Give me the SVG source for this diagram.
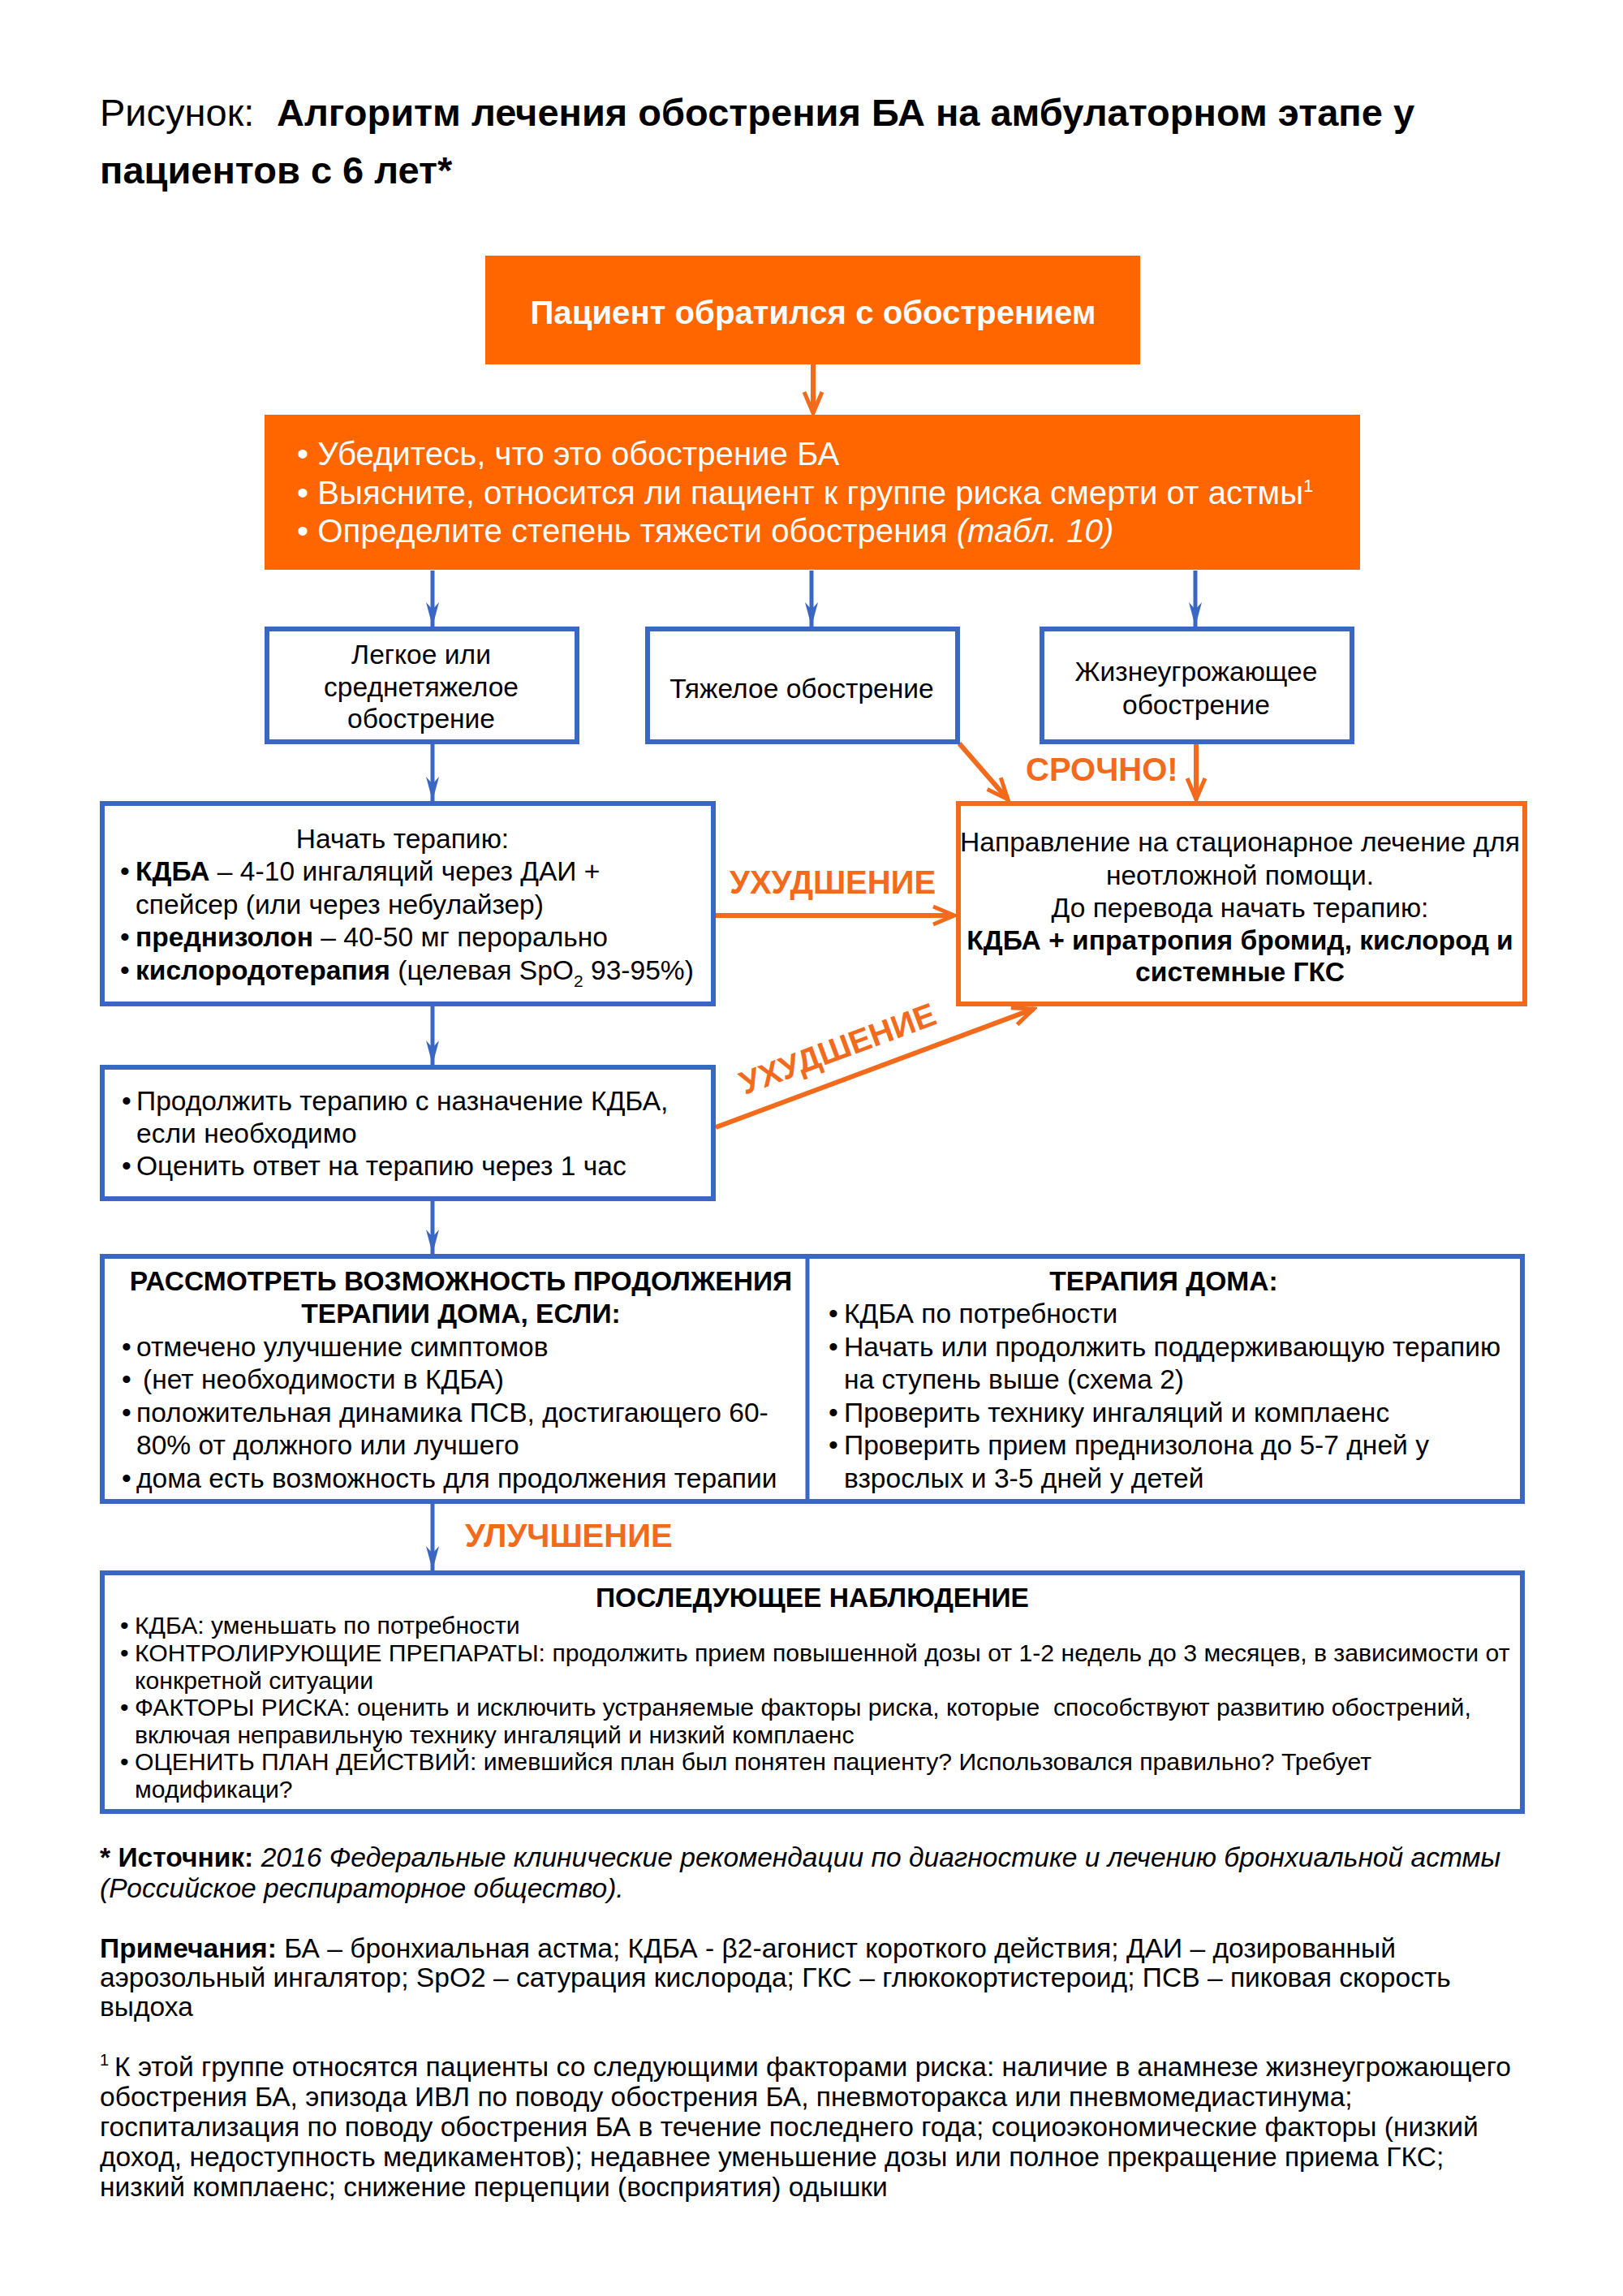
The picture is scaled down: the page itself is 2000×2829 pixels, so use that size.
<svg xmlns="http://www.w3.org/2000/svg" width="2000" height="2829" viewBox="0 0 2000 2829">
<defs>
<style>
text { font-family: "Liberation Sans", Arial, sans-serif; fill: #000; white-space: pre; }
.t33 { font-size: 33.6px; }
.t30 { font-size: 30.2px; }
.mid { text-anchor: middle; }
.b { font-weight: bold; }
.i { font-style: italic; }
.wt { fill: #fff; font-size: 40.2px; }
.lbl { fill: #F26B1D; font-size: 40px; font-weight: bold; }
.bbox { fill: #fff; stroke: #3A66C4; stroke-width: 6; }
.obox { fill: #fff; stroke: #F26B1D; stroke-width: 6; }
.ofill { fill: #FF6600; }
.cb { fill: none; stroke: #3A66C4; stroke-width: 5; marker-end: url(#ab); }
.co { fill: none; stroke: #F26B1D; stroke-width: 6; marker-end: url(#ao); }
</style>
<marker id="ab" viewBox="0 -10 32 20" refX="30" refY="0" markerWidth="32" markerHeight="20" markerUnits="userSpaceOnUse" orient="auto">
<path d="M0,-8 L30,0 L0,8 L9,0 Z" fill="#3A66C4"/>
</marker>
<marker id="ao" viewBox="-2 -14 34 28" refX="28" refY="0" markerWidth="34" markerHeight="28" markerUnits="userSpaceOnUse" orient="auto">
<path d="M2,-11 L28,0 L2,11" fill="none" stroke="#F26B1D" stroke-width="5"/>
</marker>
</defs>
<rect width="2000" height="2829" fill="#fff"/>

<g id="title">
<text x="123" y="155" style="font-size:47px">Рисунок:<tspan x="341" class="b">Алгоритм лечения обострения БА на амбулаторном этапе у</tspan></text>
<text x="123" y="226" class="b" style="font-size:47px">пациентов с 6 лет*</text>
</g>

<g id="connectors">
<line x1="1002" y1="449" x2="1002" y2="509" class="co"/>
<line x1="533" y1="703" x2="533" y2="772" class="cb"/>
<line x1="1000" y1="703" x2="1000" y2="772" class="cb"/>
<line x1="1473" y1="703" x2="1473" y2="772" class="cb"/>
<line x1="533" y1="917" x2="533" y2="987" class="cb"/>
<line x1="1182" y1="916" x2="1242" y2="985" class="co"/>
<line x1="1474" y1="917" x2="1474" y2="985" class="co"/>
<line x1="881" y1="1128" x2="1176" y2="1128" class="co"/>
<line x1="533" y1="1240" x2="533" y2="1312" class="cb"/>
<line x1="882" y1="1389" x2="1274" y2="1243" class="co"/>
<line x1="533" y1="1480" x2="533" y2="1545" class="cb"/>
<line x1="533" y1="1853" x2="533" y2="1935" class="cb"/>
<text x="1264" y="962" class="lbl">СРОЧНО!</text>
<text x="899" y="1101" class="lbl">УХУДШЕНИЕ</text>
<text transform="translate(1037,1305) rotate(-20.3)" x="0" y="0" class="lbl mid">УХУДШЕНИЕ</text>
<text x="573" y="1906" class="lbl">УЛУЧШЕНИЕ</text>
</g>

<g id="n-start">
<rect x="598" y="315" width="807" height="134" class="ofill"/>
<text x="1002" y="399" class="wt b mid">Пациент обратился с обострением</text>
</g>

<g id="n-assess">
<rect x="326" y="511" width="1350" height="191" class="ofill"/>
<text x="366" y="573" class="wt">• Убедитесь, что это обострение БА</text>
<text x="366" y="621" class="wt">• Выясните, относится ли пациент к группе риска смерти от астмы<tspan dy="-15" style="font-size:22px">1</tspan></text>
<text x="366" y="668" class="wt">• Определите степень тяжести обострения <tspan class="i">(табл. 10)</tspan></text>
</g>

<g id="n-mild">
<rect x="329" y="775" width="382" height="139" class="bbox"/>
<text x="519" y="818" class="t33 mid">Легкое или</text>
<text x="519" y="858" class="t33 mid">среднетяжелое</text>
<text x="519" y="897" class="t33 mid">обострение</text>
</g>

<g id="n-severe">
<rect x="798" y="775" width="382" height="139" class="bbox"/>
<text x="988" y="860" class="t33 mid">Тяжелое обострение</text>
</g>

<g id="n-life">
<rect x="1284" y="775" width="382" height="139" class="bbox"/>
<text x="1474" y="839" class="t33 mid">Жизнеугрожающее</text>
<text x="1474" y="880" class="t33 mid">обострение</text>
</g>

<g id="n-start-therapy">
<rect x="126" y="990" width="753" height="247" class="bbox"/>
<text x="496" y="1045" class="t33 mid">Начать терапию:</text>
<text x="148" y="1085" class="t33">•<tspan x="167" class="b">КДБА</tspan> – 4-10 ингаляций через ДАИ +</text>
<text x="167" y="1126" class="t33">спейсер (или через небулайзер)</text>
<text x="148" y="1166" class="t33">•<tspan x="167" class="b">преднизолон</tspan> – 40-50 мг перорально</text>
<text x="148" y="1207" class="t33">•<tspan x="167" class="b">кислородотерапия</tspan> (целевая SpO<tspan dy="9" style="font-size:21px">2</tspan><tspan dy="-9"> 93-95%)</tspan></text>
</g>

<g id="n-hospital">
<rect x="1181" y="990" width="698" height="247" class="obox"/>
<text x="1528" y="1049" class="t33 mid">Направление на стационарное лечение для</text>
<text x="1528" y="1090" class="t33 mid">неотложной помощи.</text>
<text x="1528" y="1130" class="t33 mid">До перевода начать терапию:</text>
<text x="1528" y="1170" class="t33 mid b">КДБА + ипратропия бромид, кислород и</text>
<text x="1528" y="1209" class="t33 mid b">системные ГКС</text>
</g>

<g id="n-continue">
<rect x="126" y="1315" width="753" height="162" class="bbox"/>
<text x="150" y="1368" class="t33">•<tspan x="168">Продолжить терапию с назначение КДБА,</tspan></text>
<text x="168" y="1408" class="t33">если необходимо</text>
<text x="150" y="1448" class="t33">•<tspan x="168">Оценить ответ на терапию через 1 час</tspan></text>
</g>

<g id="n-home">
<rect x="126" y="1548" width="1750" height="302" class="bbox"/>
<line x1="995" y1="1548" x2="995" y2="1850" stroke="#3A66C4" stroke-width="5"/>
<text x="568" y="1590" class="t33 mid b">РАССМОТРЕТЬ ВОЗМОЖНОСТЬ ПРОДОЛЖЕНИЯ</text>
<text x="568" y="1630" class="t33 mid b">ТЕРАПИИ ДОМА, ЕСЛИ:</text>
<text x="150" y="1671" class="t33">•<tspan x="168">отмечено улучшение симптомов</tspan></text>
<text x="150" y="1711" class="t33">•<tspan x="176">(нет необходимости в КДБА)</tspan></text>
<text x="150" y="1752" class="t33">•<tspan x="168">положительная динамика ПСВ, достигающего 60-</tspan></text>
<text x="168" y="1792" class="t33">80% от должного или лучшего</text>
<text x="150" y="1833" class="t33">•<tspan x="168">дома есть возможность для продолжения терапии</tspan></text>
<text x="1434" y="1590" class="t33 mid b">ТЕРАПИЯ ДОМА:</text>
<text x="1021" y="1630" class="t33">•<tspan x="1040">КДБА по потребности</tspan></text>
<text x="1021" y="1671" class="t33">•<tspan x="1040">Начать или продолжить поддерживающую терапию</tspan></text>
<text x="1040" y="1711" class="t33">на ступень выше (схема 2)</text>
<text x="1021" y="1752" class="t33">•<tspan x="1040">Проверить технику ингаляций и комплаенс</tspan></text>
<text x="1021" y="1792" class="t33">•<tspan x="1040">Проверить прием преднизолона до 5-7 дней у</tspan></text>
<text x="1040" y="1833" class="t33">взрослых и 3-5 дней у детей</text>
</g>

<g id="n-followup">
<rect x="126" y="1938" width="1750" height="294" class="bbox"/>
<text x="1001" y="1980" class="t33 mid b">ПОСЛЕДУЮЩЕЕ НАБЛЮДЕНИЕ</text>
<text x="148" y="2013" class="t30">•<tspan x="166">КДБА: уменьшать по потребности</tspan></text>
<text x="148" y="2047" class="t30">•<tspan x="166">КОНТРОЛИРУЮЩИЕ ПРЕПАРАТЫ: продолжить прием повышенной дозы от 1-2 недель до 3 месяцев, в зависимости от</tspan></text>
<text x="166" y="2081" class="t30">конкретной ситуации</text>
<text x="148" y="2114" class="t30">•<tspan x="166">ФАКТОРЫ РИСКА: оценить и исключить устраняемые факторы риска, которые  способствуют развитию обострений,</tspan></text>
<text x="166" y="2148" class="t30">включая неправильную технику ингаляций и низкий комплаенс</text>
<text x="148" y="2181" class="t30">•<tspan x="166">ОЦЕНИТЬ ПЛАН ДЕЙСТВИЙ: имевшийся план был понятен пациенту? Использовался правильно? Требует</tspan></text>
<text x="166" y="2215" class="t30">модификаци?</text>
</g>

<g id="notes">
<text x="123" y="2300" class="t33"><tspan class="b">* Источник:</tspan><tspan class="i"> 2016 Федеральные клинические рекомендации по диагностике и лечению бронхиальной астмы</tspan></text>
<text x="123" y="2338" class="t33 i">(Российское респираторное общество).</text>
<text x="123" y="2412" class="t33"><tspan class="b">Примечания:</tspan> БА – бронхиальная астма; КДБА - β2-агонист короткого действия; ДАИ – дозированный</text>
<text x="123" y="2448" class="t33">аэрозольный ингалятор; SpO2 – сатурация кислорода; ГКС – глюкокортистероид; ПСВ – пиковая скорость</text>
<text x="123" y="2484" class="t33">выдоха</text>
<text x="123" y="2558" class="t33"><tspan dy="-13" style="font-size:20px">1</tspan><tspan x="141" dy="13">К этой группе относятся пациенты со следующими факторами риска: наличие в анамнезе жизнеугрожающего</tspan></text>
<text x="123" y="2595" class="t33">обострения БА, эпизода ИВЛ по поводу обострения БА, пневмоторакса или пневмомедиастинума;</text>
<text x="123" y="2632" class="t33">госпитализация по поводу обострения БА в течение последнего года; социоэкономические факторы (низкий</text>
<text x="123" y="2669" class="t33">доход, недоступность медикаментов); недавнее уменьшение дозы или полное прекращение приема ГКС;</text>
<text x="123" y="2706" class="t33">низкий комплаенс; снижение перцепции (восприятия) одышки</text>
</g>
</svg>
